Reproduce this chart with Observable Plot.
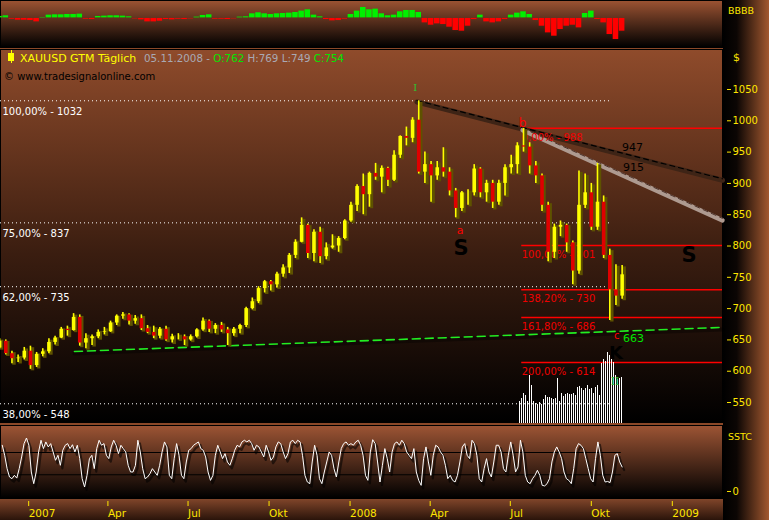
<!DOCTYPE html>
<html><head><meta charset="utf-8">
<script src="https://cdn.jsdelivr.net/npm/d3@7"></script>
<script src="https://cdn.jsdelivr.net/npm/@observablehq/plot@0.6"></script>
<style>
body{margin:0;background:#000;}
#root{position:relative;width:769px;height:520px;overflow:hidden;background:#8a4828;font-family:"DejaVu Sans",sans-serif;}
.abs{position:absolute;}
.panel{position:absolute;border:1px solid #000;}
.lbl{position:absolute;white-space:pre;line-height:13px;}
svg{position:absolute;}
</style></head><body>
<div id="root">
  <div class="abs" style="left:723px;top:0;width:46px;height:520px;background:linear-gradient(to right,#000 0%,#0c0604 30%,#a2582f 100%);"></div>
  <div class="abs" style="left:0;top:499px;width:723px;height:21px;background:linear-gradient(#80452a,#2a140a);"></div>
  <div class="panel" style="left:0;top:0;width:721px;height:46px;background:linear-gradient(#9a5232,#000);"></div>
  <div class="panel" style="left:0;top:49px;width:721px;height:372px;background:linear-gradient(#8f4b2b 0%,#3a1d10 55%,#000 100%);"></div>
  <div class="panel" style="left:0;top:425px;width:721px;height:72px;background:linear-gradient(#9c5434,#000);"></div>
  <div id="top"></div><div id="main"></div><div id="osc"></div>
  <div class="abs" style="left:8px;top:53px;width:6px;height:8px;background:#ffff00;"></div>
  <div class="abs" style="left:10.5px;top:50px;width:1px;height:13px;background:#ffff00;"></div>
  <div class="lbl" style="left:20px;top:52px;font-size:11px;color:#ffff00;">XAUUSD GTM Täglich</div>
  <div class="lbl" style="left:144px;top:52px;font-size:10.3px;color:#a9a9b4;">05.11.2008 - <span style="color:#00e600">O:762</span> H:769 L:749 <span style="color:#00e600">C:754</span></div>
  <div class="lbl" style="left:4px;top:70px;font-size:10px;color:#000;">© www.tradesignalonline.com</div>
  <div class="lbl" style="left:728px;top:4px;font-size:9.5px;color:#ffe600;">BBBB</div>
  <div class="lbl" style="left:733px;top:51px;font-size:11px;color:#ffe600;">$</div>
  <div class="lbl" style="left:728px;top:430px;font-size:9.5px;color:#ffe600;">SSTC</div>
</div>
<script>
// ---------- DATA ----------
const weekDates = ["2006-11-29","2006-12-06","2006-12-13","2006-12-20","2006-12-27",
"2007-01-03","2007-01-10","2007-01-17","2007-01-24","2007-01-31","2007-02-07","2007-02-14","2007-02-21","2007-02-28",
"2007-03-07","2007-03-14","2007-03-21","2007-03-28","2007-04-04","2007-04-11","2007-04-18","2007-04-25",
"2007-05-02","2007-05-09","2007-05-16","2007-05-23","2007-05-30","2007-06-06","2007-06-13","2007-06-20","2007-06-27",
"2007-07-04","2007-07-11","2007-07-18","2007-07-25","2007-08-01","2007-08-08","2007-08-15","2007-08-22","2007-08-29",
"2007-09-05","2007-09-12","2007-09-19","2007-09-26","2007-10-03","2007-10-10","2007-10-17","2007-10-24","2007-10-31",
"2007-11-07","2007-11-14","2007-11-21","2007-11-28","2007-12-05","2007-12-12","2007-12-19","2007-12-26",
"2008-01-02","2008-01-09","2008-01-16","2008-01-23","2008-01-30","2008-02-06","2008-02-13","2008-02-20","2008-02-27",
"2008-03-05","2008-03-12","2008-03-19","2008-03-26","2008-04-02","2008-04-09","2008-04-16","2008-04-23","2008-04-30",
"2008-05-07","2008-05-14","2008-05-21","2008-05-28","2008-06-04","2008-06-11","2008-06-18","2008-06-25",
"2008-07-02","2008-07-09","2008-07-16","2008-07-23","2008-07-30","2008-08-06","2008-08-13","2008-08-20","2008-08-27",
"2008-09-03","2008-09-10","2008-09-17","2008-09-24","2008-10-01","2008-10-08","2008-10-15","2008-10-22","2008-10-29","2008-11-05"];
const openP = [637,648,628,620,621,632,609,627,631,646,653,667,665,686,645,652,655,662,663,677,688,690,680,684,668,662,656,667,650,655,655,650,655,666,680,667,673,666,660,667,673,700,711,732,743,738,755,765,785,806,833,788,822,783,797,800,812,840,865,895,882,916,910,924,905,945,975,972,1001,918,930,912,925,918,888,860,885,885,923,885,900,870,900,925,930,960,958,928,912,865,790,830,833,805,760,865,885,830,870,785,730,720];
const highP = [652,650,632,626,638,640,630,636,652,656,670,672,692,690,660,658,666,670,680,690,694,692,689,690,673,672,670,672,659,660,658,658,668,685,682,676,678,670,670,675,702,717,735,745,745,758,770,788,810,845,835,826,830,805,818,815,842,870,898,915,918,932,928,926,952,976,990,1005,1032,950,935,935,957,925,892,887,890,930,925,905,905,905,930,945,965,988,965,935,915,870,835,840,835,808,920,915,900,932,880,795,770,769];
const lowP = [636,626,612,614,618,603,606,623,628,642,652,656,664,640,636,641,652,658,662,673,683,674,675,665,660,652,652,648,645,650,641,648,653,664,662,660,662,641,656,660,670,698,708,725,728,733,750,756,780,805,780,775,772,778,795,790,810,838,855,850,862,905,885,895,903,940,960,965,915,900,870,905,910,880,845,855,865,880,877,870,860,865,880,915,915,950,915,900,855,775,780,815,790,738,755,860,825,825,780,681,705,715];
const closeP = [648,628,620,621,632,609,627,631,646,653,667,665,686,645,652,655,662,663,677,688,690,680,684,668,662,656,667,650,655,655,650,655,666,680,667,673,666,660,667,673,700,711,732,743,738,755,765,785,806,833,788,822,783,797,800,812,840,865,895,882,916,910,924,905,945,975,972,1001,918,930,912,925,918,888,860,885,885,923,885,900,870,900,925,930,960,958,928,912,865,790,830,833,805,760,865,885,830,870,785,730,720,754];
// top indicator (BBB) weekly values
const bbbVals = [6,8,-4,-7,-7,-8,-12,3,10,11,11,12,12,13,-4,-5,6,7,8,8,7,5,-3,-6,-12,-12,-10,-5,-6,-4,-5,-3,4,9,11,-4,-4,-5,-3,4,5,14,17,14,12,14,15,16,18,22,26,10,5,-5,-9,-8,-4,12,22,33,26,28,14,8,10,20,24,24,18,-15,-22,-18,-20,-28,-38,-40,-25,-5,10,-12,-15,-12,-5,10,16,20,12,-8,-25,-45,-55,-35,-25,-22,-30,15,22,-5,-15,-50,-65,-40];
// stochastic oscillator (SSTC), evenly spaced from 2006-12-02 to 2008-11-05
const oscStart = "2006-12-02", oscEnd = "2008-11-05";
const oscVals = [83,65,41,26,23,29,24,41,62,86,96,83,35,14,35,71,92,77,89,80,86,71,56,65,47,74,83,86,77,84,71,83,59,23,8,29,59,65,41,77,92,83,86,65,59,80,92,83,68,83,77,71,47,35,35,47,92,71,41,23,26,32,41,35,29,47,71,89,80,29,23,59,86,65,29,23,53,74,77,83,86,89,77,74,62,35,20,29,65,83,71,59,68,53,47,59,74,83,80,89,92,89,92,86,74,83,80,71,62,83,71,56,62,80,89,86,71,59,68,89,92,86,92,89,65,29,17,14,53,83,65,23,14,35,53,71,65,41,26,53,77,86,89,83,86,83,89,92,
83,65,29,20,71,93,86,53,17,47,77,59,35,71,86,89,83,92,86,71,65,59,77,35,20,11,59,80,53,29,65,83,80,71,65,47,23,29,20,17,29,53,80,86,65,59,92,86,65,23,17,41,59,35,26,53,83,83,71,41,35,65,89,65,35,44,92,71,29,17,14,23,29,38,29,11,10,14,23,53,71,80,71,59,35,23,20,14,41,77,86,83,77,59,41,23,17,59,89,65,29,17,18,16,35,65,68,53,44];
const oscLevels = [30, 70];
// volume bars, evenly spaced from 2008-07-12 to 2008-11-04
const volStart = "2008-07-12", volEnd = "2008-11-04";
const volVals = [22,25,30,28,22,48,38,22,20,19,21,19,24,28,26,26,25,24,25,45,22,30,27,29,30,29,29,30,28,36,37,35,33,35,38,34,35,30,36,38,28,60,64,62,71,68,66,61,48,44,45,46];
// Fibonacci retracement (white) and extension (red)
const fibRetLevels = [1032, 837, 735, 548];
const fibRetLabels = ["100,00% - 1032", "75,00% - 837", "62,00% - 735", "38,00% - 548"];
const fibExtLevels = [988, 801, 730, 686, 614];
const fibExtLabels = ["0,00% - 988", "100,00% - 801", "138,20% - 730", "161,80% - 686", "200,00% - 614"];
const fibExtStart = "2008-07-14", fibRetEnd = "2008-10-22";
// trend lines
const resistDates = ["2008-03-17", "2009-02-27"], resistPrices = [1030, 905];
const resist2Dates = ["2008-07-15", "2009-02-27"], resist2Prices = [985, 841];
const supportDates = ["2007-02-22", "2009-02-27"], supportPrices = [631.5, 670];
// annotations
const annoText  = ["I", "b", "a", "S", "S", "K", "c", "663", "947", "915", "II"];
const annoDate  = ["2008-03-15","2008-07-15","2008-05-05","2008-05-06","2009-01-20","2008-10-29","2008-10-30","2008-11-06","2008-11-05","2008-11-06","2008-10-28"];
const annoPrice = [1052, 997, 825, 797, 786, 628, 657, 653, 957, 925, 583];
// axes
const priceTicks = [550, 600, 650, 700, 750, 800, 850, 900, 950, 1000, 1050];
const xTickDates = ["2007-01-01","2007-04-01","2007-07-01","2007-10-01","2008-01-01","2008-04-01","2008-07-01","2008-10-01","2009-01-01"];
const xTickLabels = ["2007","Apr","Jul","Okt","2008","Apr","Jul","Okt","2009"];

// ---------- BUILD ----------
const X0 = new Date("2006-11-30"), X1 = new Date("2009-02-27");
const D = s => new Date(s);
const YEL = "#ffff00", RED = "#ff0000", GRN = "#00e600", AXC = "#ffe600";
const candles = weekDates.map((d, i) => ({date: D(d), o: openP[i], h: highP[i], l: lowP[i], c: closeP[i]}));
const bbb = weekDates.map((d, i) => ({x1: new Date(+D(d) - 3.5*864e5), x2: new Date(+D(d) + 3.5*864e5), v: bbbVals[i]}));
const oS = +D(oscStart), oE = +D(oscEnd);
const osc = oscVals.map((v, i) => ({date: new Date(oS + i*(oE - oS)/(oscVals.length - 1)), v}));
const vS = +D(volStart), vE = +D(volEnd);
const yBottom = 516.5;
const volToPrice = d3.scaleLinear([0, 100], [yBottom, yBottom + 100/0.626]);
const vol = volVals.map((v, i) => ({date: new Date(vS + i*(vE - vS)/(volVals.length - 1)), p: volToPrice(v)}));
const ret = fibRetLevels.map((v, i) => ({v, t: fibRetLabels[i]}));
const ext = fibExtLevels.map((v, i) => ({v, t: fibExtLabels[i]}));
const pts = (ds, ps) => ds.map((d, i) => ({date: D(d), p: ps[i]}));
const annos = annoText.map((t, i) => ({t, date: D(annoDate[i]), p: annoPrice[i]}));
const A = i => [annos[i]];
const common = {width: 769, marginLeft: 0, marginRight: 47, marginTop: 0,
  style: {background: "transparent", overflow: "visible", fontFamily: "DejaVu Sans"}};
const xScale = {type: "utc", domain: [X0, X1], axis: null};

const topPlot = Plot.plot({...common, height: 49, marginBottom: 0, x: xScale,
  y: {domain: [-94, 53], axis: null},
  marks: [
    Plot.rect(bbb.filter(d => d.v >= 0), {x1: "x1", x2: "x2", y1: () => 0, y2: "v", fill: "#00f000", inset: 0.3}),
    Plot.rect(bbb.filter(d => d.v < 0), {x1: "x1", x2: "x2", y1: () => 0, y2: "v", fill: "#ff0000", inset: 0.3})
  ]});
topPlot.style.left = "0px"; topPlot.style.top = "0px";
document.getElementById("top").appendChild(topPlot);

const mainPlot = Plot.plot({...common, height: 374, marginBottom: 0, x: xScale,
  y: {domain: [yBottom, 1113.9], axis: null},
  marks: [
    Plot.ruleY(ret, {y: "v", x1: () => X0, x2: () => D(fibRetEnd), stroke: "#ffffff", strokeDasharray: "1,3"}),
    Plot.text(ret, {x: () => X0, y: "v", text: "t", dy: 11, dx: 2, textAnchor: "start", fill: "#ffffff", fontSize: 10}),
    Plot.ruleY(ext, {y: "v", x1: () => D(fibExtStart), x2: () => X1, stroke: RED, strokeWidth: 1.5}),
    Plot.ruleX(vol, {x: "date", y1: () => yBottom, y2: "p", stroke: "#ffffff", strokeWidth: 1, shapeRendering: "crispEdges"}),
    Plot.line(pts(supportDates, supportPrices), {x: "date", y: "p", stroke: "#000", strokeOpacity: 0.35, strokeWidth: 4, dy: 2}),
    Plot.line(pts(supportDates, supportPrices), {x: "date", y: "p", stroke: "#22ee22", strokeWidth: 1.6, strokeDasharray: "8,5"}),
    Plot.line(pts(resistDates, resistPrices), {x: "date", y: "p", stroke: "#3e2416", strokeWidth: 5}),
    Plot.line(pts(resistDates, resistPrices), {x: "date", y: "p", stroke: "#000", strokeWidth: 1.2, strokeDasharray: "5,4", dy: -1.5}),
    Plot.line(pts(resist2Dates, resist2Prices), {x: "date", y: "p", stroke: "#ae9a90", strokeWidth: 4.5}),
    Plot.line(pts(resist2Dates, resist2Prices), {x: "date", y: "p", stroke: "#4a3028", strokeWidth: 1, strokeDasharray: "5,4", dy: -2}),
    Plot.text(ext, {x: () => D(fibExtStart), y: "v", text: "t", dy: 9, textAnchor: "start", fill: "#f00000", fontSize: 10}),
    Plot.ruleX(candles, {x: "date", y1: "l", y2: "h", stroke: "#5e5200", strokeWidth: 3.5, dx: 2, dy: 1.5}),
    Plot.ruleX(candles, {x: "date", y1: "l", y2: "h", stroke: YEL, strokeWidth: 1.6}),
    Plot.ruleX(candles.filter(d => d.c >= d.o), {x: "date", y1: "o", y2: "c", stroke: YEL, strokeWidth: 3.6}),
    Plot.ruleX(candles.filter(d => d.c < d.o), {x: "date", y1: "o", y2: "c", stroke: "#e00000", strokeWidth: 3.6}),
    Plot.text(A(0), {x: "date", y: "p", text: "t", fill: "#30c030", fontSize: 10, fontFamily: "DejaVu Serif"}),
    Plot.text(A(1), {x: "date", y: "p", text: "t", fill: RED, fontSize: 12}),
    Plot.text(A(2), {x: "date", y: "p", text: "t", fill: RED, fontSize: 11}),
    Plot.text(A(3), {x: "date", y: "p", text: "t", fill: "#000", fontSize: 21, fontWeight: "bold"}),
    Plot.text(A(4), {x: "date", y: "p", text: "t", fill: "#000", fontSize: 21, fontWeight: "bold"}),
    Plot.text(A(5), {x: "date", y: "p", text: "t", fill: "#000", fontSize: 18, fontWeight: "bold"}),
    Plot.text(A(6), {x: "date", y: "p", text: "t", fill: RED, fontSize: 10}),
    Plot.text(A(7), {x: "date", y: "p", text: "t", fill: GRN, fontSize: 11, textAnchor: "start"}),
    Plot.text(A(8), {x: "date", y: "p", text: "t", fill: "#000", fontSize: 11, textAnchor: "start"}),
    Plot.text(A(9), {x: "date", y: "p", text: "t", fill: "#000", fontSize: 11, textAnchor: "start"}),
    Plot.text(A(10), {x: "date", y: "p", text: "t", fill: "#30c030", fontSize: 11, fontFamily: "DejaVu Serif", letterSpacing: "-1px"}),
    Plot.axisY({anchor: "right", ticks: priceTicks, tickFormat: d => String(d), label: null, tickSize: 4, tickPadding: 2, dx: 4, stroke: AXC, fill: AXC, fontSize: 10})
  ]});
mainPlot.style.left = "0px"; mainPlot.style.top = "49px";
document.getElementById("main").appendChild(mainPlot);

const oscPlot = Plot.plot({...common, height: 94, marginBottom: 21, x: xScale,
  y: {domain: [-14.4, 116.7], axis: null},
  marks: [
    Plot.ruleY(oscLevels, {y: d => d, x1: () => X0, x2: () => D("2008-11-04"), stroke: "#000", strokeWidth: 1}),
    Plot.line(osc, {x: "date", y: "v", stroke: "#000", strokeOpacity: 0.55, strokeWidth: 2.2, dx: 2, dy: 3}),
    Plot.line(osc, {x: "date", y: "v", stroke: "#ffffff", strokeWidth: 1}),
    Plot.axisY({anchor: "right", ticks: [0], tickFormat: d => String(d), label: null, tickSize: 4, tickPadding: 2, dx: 4, stroke: AXC, fill: AXC, fontSize: 10}),
    Plot.axisX({anchor: "bottom", ticks: xTickDates.map(D), label: null, tickFormat: d => xTickLabels[xTickDates.indexOf(d.toISOString().slice(0, 10))],
      tickSize: 5, tickPadding: 3, dy: 2, textAnchor: "start", stroke: AXC, fill: AXC, fontSize: 10.5})
  ]});
oscPlot.style.left = "0px"; oscPlot.style.top = "426px";
document.getElementById("osc").appendChild(oscPlot);
</script>
</body></html>
